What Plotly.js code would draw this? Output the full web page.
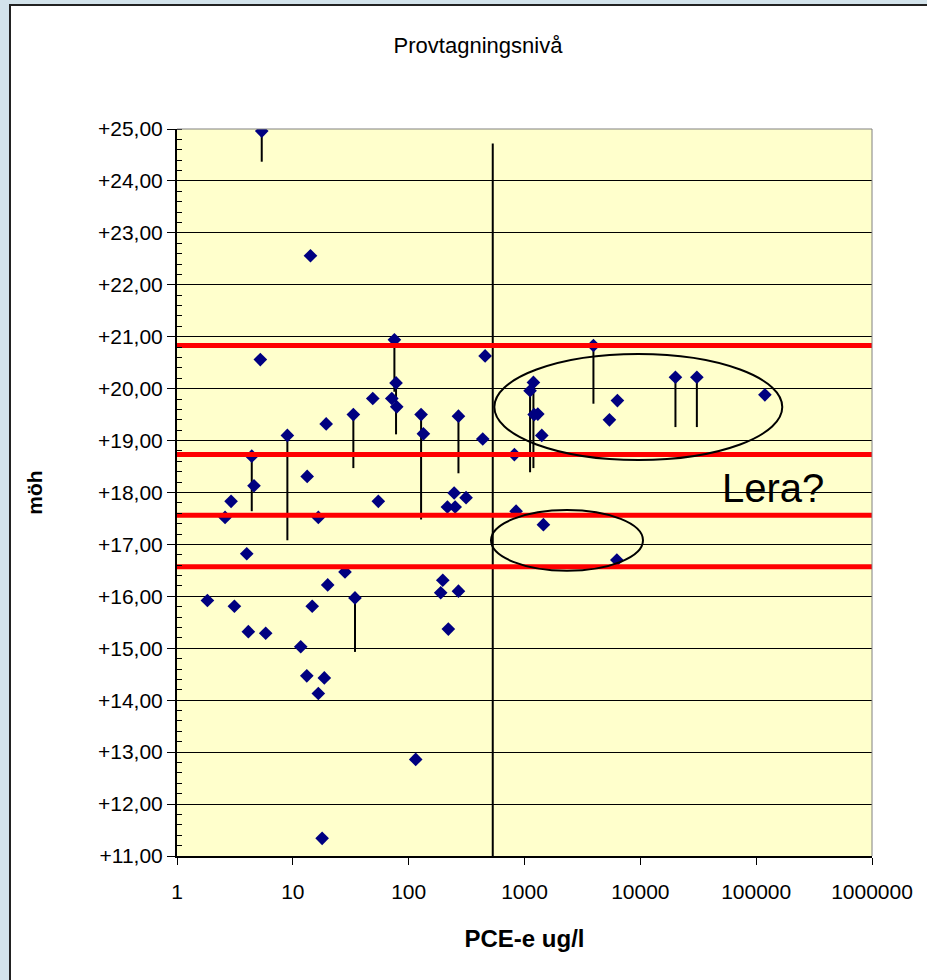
<!DOCTYPE html>
<html><head><meta charset="utf-8">
<script src="https://cdn.plot.ly/plotly-3.0.1.min.js"></script>
<style>
html,body{margin:0;padding:0;background:#d3e3eb;width:927px;height:980px;overflow:hidden;}
#frame{position:absolute;left:9px;top:4px;width:940px;height:1000px;background:#ffffff;border-left:2px solid #222;border-top:2px solid #222;}
#chart{position:absolute;left:0;top:0;width:927px;height:980px;}
</style></head><body>
<div id="frame"></div><div id="chart"></div>
<script>
// PCE-e concentration (ug/l)
const pceValues = [5.39, 14.2, 5.24, 19.4, 8.97, 4.42, 13.3, 33.3, 75.3, 77.8,
  71.5, 78.9, 49, 128, 134, 269, 457, 436, 54.7, 247,
  313, 216, 252, 28.2, 34.4, 197, 189, 269, 818, 846,
  220, 115, 4.62, 2.93, 2.60, 16.6, 4.0, 20.0, 1.83, 3.13,
  14.7, 4.13, 5.83, 11.7, 13.2, 18.7, 16.6, 17.9, 3936, 1194,
  1117, 1211, 1303, 1410, 6340, 5410, 20100, 30760, 118900, 1456, 6270];
// Sampling level (m ö h)
const levelValues = [24.96, 22.56, 20.56, 19.32, 19.10, 18.70, 18.31, 19.50, 20.94, 20.11,
  19.81, 19.65, 19.81, 19.50, 19.13, 19.47, 20.63, 19.03, 17.83, 17.99,
  17.90, 17.72, 17.72, 16.47, 15.97, 16.31, 16.07, 16.10, 18.73, 17.64,
  15.37, 12.86, 18.13, 17.83, 17.52, 17.52, 16.82, 16.22, 15.92, 15.81,
  15.81, 15.32, 15.29, 15.03, 14.47, 14.43, 14.13, 11.34, 20.83, 20.12,
  19.96, 19.50, 19.51, 19.10, 19.77, 19.40, 20.22, 20.22, 19.88, 17.38, 16.70];
// Screen length below each sampling point (m)
const screenBelow = [0.59, 0, 0, 0, 2.02, 1.06, 0, 1.03, 1.00, 0.99,
  0, 0, 0, 2.02, 0, 1.10, 0, 0, 0, 0,
  0, 0, 0, 0, 1.04, 0, 0, 0, 0, 0,
  0, 0, 0, 0, 0, 0, 0, 0, 0, 0,
  0, 0, 0, 0, 0, 0, 0, 0, 1.12, 1.65,
  1.57, 0, 0, 0, 0, 0, 0.96, 0.96, 0, 0, 0];
// Reference levels (red lines)
const refLevels = [20.83, 18.73, 17.56, 16.57];
const refX = [1, 1000000];
// Vertical divider
const dividerX = [532, 532];
const dividerY = [11, 24.72];
// Ticks
const xTickVals = [1, 10, 100, 1000, 10000, 100000, 1000000];
const xTickText = ["1", "10", "100", "1000", "10000", "100000", "1000000"];
const yTickVals = [11, 12, 13, 14, 15, 16, 17, 18, 19, 20, 21, 22, 23, 24, 25];
const yTickText = ["+11,00", "+12,00", "+13,00", "+14,00", "+15,00", "+16,00", "+17,00", "+18,00",
  "+19,00", "+20,00", "+21,00", "+22,00", "+23,00", "+24,00", "+25,00"];

const FONT = "Liberation Sans, Arial, sans-serif";
const traces = [];
traces.push({
  type: 'scatter', mode: 'lines', x: dividerX, y: dividerY,
  line: {color: '#000', width: 2}, hoverinfo: 'skip'
});
traces.push({
  type: 'scatter', mode: 'markers', x: pceValues, y: levelValues,
  marker: {symbol: 'diamond', size: 10.5, color: '#000080', line: {width: 0}},
  error_y: {type: 'data', symmetric: false, array: pceValues.map(() => 0),
    arrayminus: screenBelow, color: '#000', thickness: 2, width: 0}
});
refLevels.forEach(l => traces.push({
  type: 'scatter', mode: 'lines', x: refX, y: [l, l],
  line: {color: '#ff0000', width: 5}, hoverinfo: 'skip'
}));

const layout = {
  width: 927, height: 980,
  paper_bgcolor: 'rgba(0,0,0,0)', plot_bgcolor: '#ffffcc',
  margin: {l: 177, r: 55, t: 129, b: 124},
  showlegend: false, hovermode: false,
  font: {family: FONT, color: '#000', size: 21},
  title: {text: 'Provtagningsnivå', font: {family: FONT, size: 22, color: '#000'},
    x: 478 / 927, xref: 'container', xanchor: 'center',
    y: 1 - 45 / 980, yref: 'container', yanchor: 'middle'},
  xaxis: {
    type: 'log', range: [0, 6], tickmode: 'array', tickvals: xTickVals, ticktext: xTickText,
    ticks: 'outside', ticklen: 7, tickwidth: 1, tickcolor: '#000',
    showgrid: false, zeroline: false, showline: true, linecolor: '#000', linewidth: 2,
    ticklabelstandoff: 9,
    tickfont: {family: FONT, size: 21, color: '#000'},
    title: {text: '<b>PCE-e ug/l</b>', font: {family: FONT, size: 24, color: '#000'}, standoff: 28}
  },
  yaxis: {
    range: [11, 25], tickmode: 'array', tickvals: yTickVals, ticktext: yTickText,
    ticks: 'outside', ticklen: 8, tickwidth: 1, tickcolor: '#000',
    showgrid: true, gridcolor: '#000', gridwidth: 1, zeroline: false,
    showline: true, linecolor: '#000', linewidth: 2,
    minor: {dtick: 0.2, ticks: 'inside', ticklen: 5, tickcolor: '#000', showgrid: false},
    tickfont: {family: FONT, size: 21, color: '#000'},
    title: {text: '<b>möh</b>', font: {family: FONT, size: 21, color: '#000'}, standoff: 50}
  },
  shapes: [
    {type: 'line', xref: 'paper', yref: 'paper', x0: 0, x1: 1, y0: 1, y1: 1, line: {color: '#808080', width: 1}},
    {type: 'line', xref: 'paper', yref: 'paper', x0: 1, x1: 1, y0: 0, y1: 1, line: {color: '#808080', width: 1}},
    {type: 'circle', xref: 'paper', yref: 'paper', x0: 0.4566, x1: 0.8709, y0: 0.5447, y1: 0.6905,
      line: {color: '#000', width: 2}, fillcolor: 'rgba(0,0,0,0)'},
    {type: 'circle', xref: 'paper', yref: 'paper', x0: 0.4518, x1: 0.6705, y0: 0.3924, y1: 0.4759,
      line: {color: '#000', width: 2}, fillcolor: 'rgba(0,0,0,0)'}
  ],
  annotations: [
    {text: 'Lera?', xref: 'paper', yref: 'paper', x: (773 - 177) / 695, y: (856 - 488) / 727,
      xanchor: 'center', yanchor: 'middle', showarrow: false,
      font: {family: FONT, size: 40, color: '#000'}}
  ]
};
Plotly.newPlot('chart', traces, layout, {displayModeBar: false, staticPlot: true});
</script>
</body></html>
